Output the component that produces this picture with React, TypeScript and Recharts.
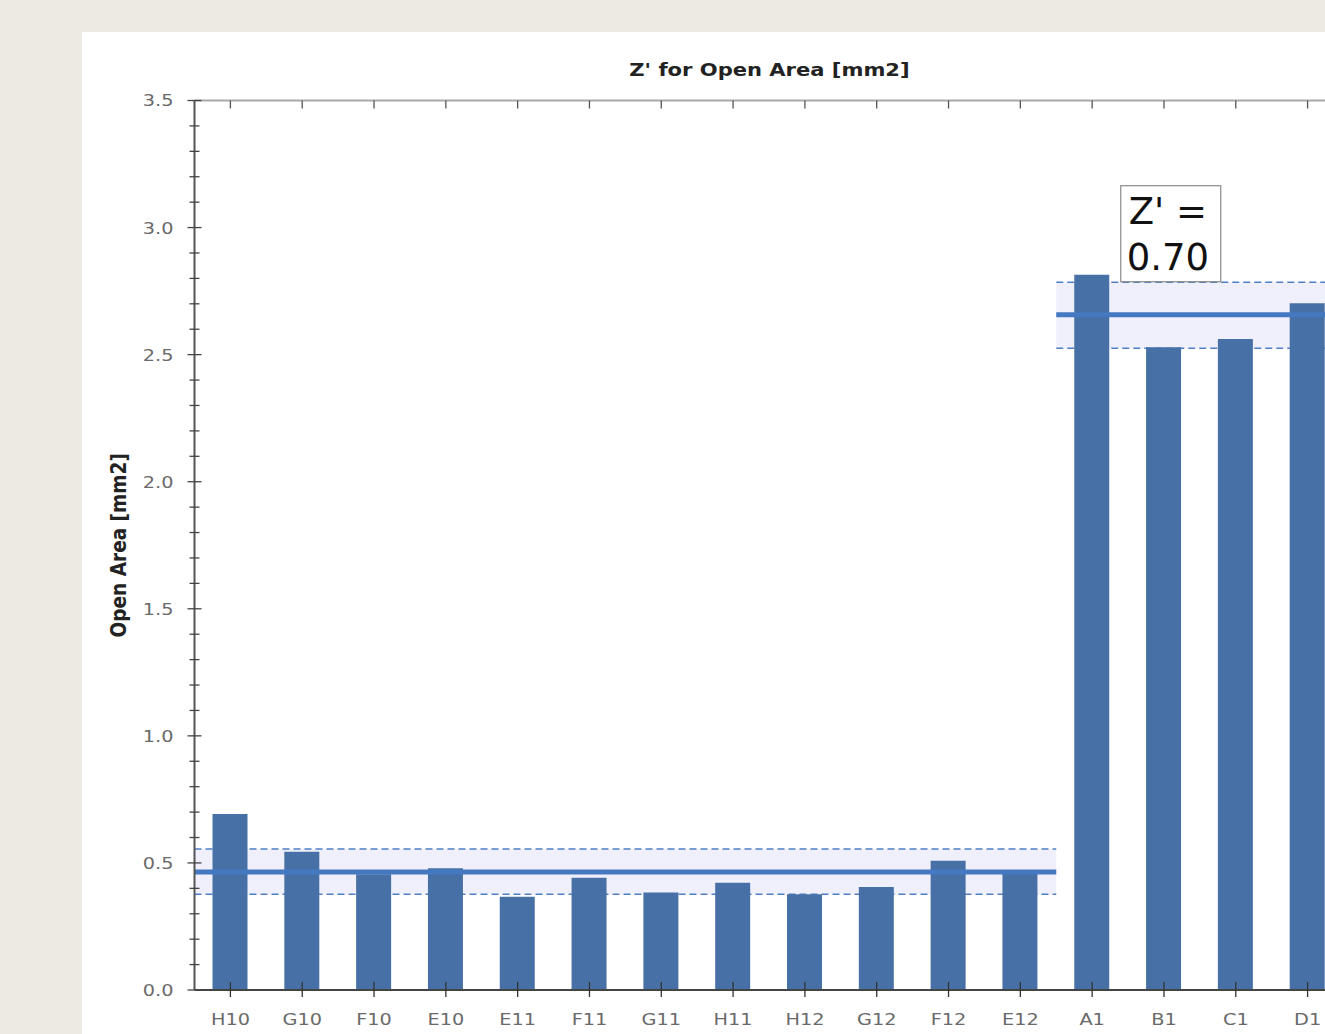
import { Bar, BarChart, ReferenceArea, XAxis, YAxis } from "recharts";

const negWells = ["H10", "G10", "F10", "E10", "E11", "F11", "G11", "H11", "H12", "G12", "F12", "E12"];
const posWells = ["A1", "B1", "C1", "D1"];
const wells = [...negWells, ...posWells];
const openArea = [0.693, 0.544, 0.455, 0.479, 0.367, 0.442, 0.384, 0.422, 0.377, 0.405, 0.509, 0.46, 2.814, 2.529, 2.562, 2.702];

// control groups: mean and mean +/- SD
const groupWells = [negWells, posWells];
const groupMean = [0.464, 2.657];
const groupLow = [0.377, 2.525];
const groupHigh = [0.555, 2.785];
const zPrime = 0.7;

const yMajor = [0, 0.5, 1, 1.5, 2, 2.5, 3, 3.5];
const yTicks = [
  0, 0.1, 0.2, 0.3, 0.4, 0.5, 0.6, 0.7, 0.8, 0.9, 1, 1.1, 1.2, 1.3, 1.4, 1.5, 1.6, 1.7,
  1.8, 1.9, 2, 2.1, 2.2, 2.3, 2.4, 2.5, 2.6, 2.7, 2.8, 2.9, 3, 3.1, 3.2, 3.3, 3.4, 3.5,
];

const data = wells.map((well, i) => ({ well, area: openArea[i] }));

const FONT = "'DejaVu Sans', Verdana, sans-serif";
const STRETCH = 1.17;
const BAR = "#4771a6";
const MEAN = "#4478c0";
const SD = "#4f7fc6";
const BAND = "#f0f0fc";

function YTick({ x, y, payload }: any) {
  const major = yMajor.includes(payload.value);
  const len = major ? 7 : 5;
  return (
    <g>
      <line x1={x - len} x2={x + len} y1={y} y2={y} stroke="#444" strokeWidth={1.3} />
      {major && (
        <text
          transform={`translate(${x - 21},${y}) scale(${STRETCH},1)`}
          textAnchor="end"
          dy="0.36em"
          fontFamily={FONT}
          fontSize={16.5}
          fill="#6a6a6a"
        >
          {payload.value.toFixed(1)}
        </text>
      )}
    </g>
  );
}

function XTick({ x, y, payload }: any) {
  return (
    <g>
      <line x1={x} x2={x} y1={y - 8} y2={y + 7} stroke="#333" strokeWidth={1.3} />
      <text
        transform={`translate(${x},${y + 35}) scale(${STRETCH},1)`}
        textAnchor="middle"
        fontFamily={FONT}
        fontSize={16.5}
        fill="#6a6a6a"
      >
        {payload.value}
      </text>
    </g>
  );
}

function TopTick({ x, y }: any) {
  return <line x1={x} x2={x} y1={y} y2={y + 8} stroke="#555" strokeWidth={1.3} />;
}

function YLabel({ viewBox }: any) {
  const cx = viewBox.x + 15.5;
  const cy = viewBox.y + viewBox.height / 2;
  return (
    <text
      transform={`translate(${cx},${cy}) scale(${STRETCH},1) rotate(-90)`}
      textAnchor="middle"
      dy="0.35em"
      fontFamily={FONT}
      fontWeight="bold"
      fontSize={18.5}
      fill="#222"
    >
      Open Area [mm2]
    </text>
  );
}

// shaded SD band with dashed edges
function SdBand({ x, y, width, height }: any) {
  return (
    <g>
      <rect x={x} y={y} width={width} height={height} fill={BAND} />
      <line x1={x} x2={x + width} y1={y} y2={y} stroke={SD} strokeWidth={1.5} strokeDasharray="7 4" />
      <line x1={x} x2={x + width} y1={y + height} y2={y + height} stroke={SD} strokeWidth={1.5} strokeDasharray="7 4" />
    </g>
  );
}

function MeanLine({ x, y, width }: any) {
  return <line x1={x} x2={x + width} y1={y} y2={y} stroke={MEAN} strokeWidth={5} />;
}

function ZBox({ viewBox }: any) {
  const left = viewBox.x + 64.5;
  const bottom = viewBox.y - 0.5;
  return (
    <g>
      <rect x={left} y={bottom - 96} width={100} height={96} fill="#fff" stroke="#8a8a8a" strokeWidth={1.2} />
      <text x={left + 8} y={bottom - 58} fontFamily={FONT} fontSize={37} fill="#111">
        Z' =
      </text>
      <text x={left + 6} y={bottom - 12} fontFamily={FONT} fontSize={37} fill="#111">
        {zPrime.toFixed(2)}
      </text>
    </g>
  );
}

export default function App() {
  return (
    <div
      style={{
        position: "fixed",
        left: 0,
        top: 0,
        width: 1325,
        height: 1034,
        background: "#edeae2",
        overflow: "hidden",
      }}
    >
      <div
        style={{
          position: "absolute",
          left: 82,
          top: 32,
          width: 1400,
          height: 1100,
          background: "#ffffff",
        }}
      >
        <div
          style={{
            position: "absolute",
            left: 112.5,
            width: 1149,
            top: 29,
            lineHeight: "18px",
            textAlign: "center",
            fontFamily: FONT,
            fontWeight: "bold",
            fontSize: 18,
            color: "#222",
            transform: `scaleX(${STRETCH})`,
          }}
        >
          Z' for Open Area [mm2]
        </div>
        <BarChart
          width={1282}
          height={1010}
          data={data}
          margin={{ top: 68.5, right: 20.5, bottom: 2, left: 20.5 }}
        >
          <XAxis
            dataKey="well"
            height={50}
            interval={0}
            tickLine={false}
            tickSize={0}
            tickMargin={0}
            tick={<XTick />}
            axisLine={{ stroke: "#444", strokeWidth: 2 }}
          />
          <XAxis
            xAxisId="top"
            dataKey="well"
            orientation="top"
            mirror
            interval={0}
            tickLine={false}
            tickSize={0}
            tickMargin={0}
            tick={<TopTick />}
            axisLine={{ stroke: "#a8a8a8", strokeWidth: 2 }}
          />
          <YAxis
            width={92}
            domain={[0, 3.5]}
            ticks={yTicks}
            interval={0}
            tickLine={false}
            tickSize={0}
            tickMargin={0}
            tick={<YTick />}
            axisLine={{ stroke: "#555", strokeWidth: 2 }}
            label={<YLabel />}
          />
          {groupWells.map((g, i) => (
            <ReferenceArea
              key={`band${i}`}
              x1={g[0]}
              x2={g[g.length - 1]}
              y1={groupLow[i]}
              y2={groupHigh[i]}
              shape={<SdBand />}
              label={i === 1 ? <ZBox /> : undefined}
              zIndex={100}
            />
          ))}
          <Bar dataKey="area" fill={BAR} barSize={35} isAnimationActive={false} />
          {groupWells.map((g, i) => (
            <ReferenceArea
              key={`mean${i}`}
              x1={g[0]}
              x2={g[g.length - 1]}
              y1={groupMean[i]}
              y2={groupMean[i]}
              shape={<MeanLine />}
              zIndex={400}
            />
          ))}
        </BarChart>
      </div>
    </div>
  );
}
